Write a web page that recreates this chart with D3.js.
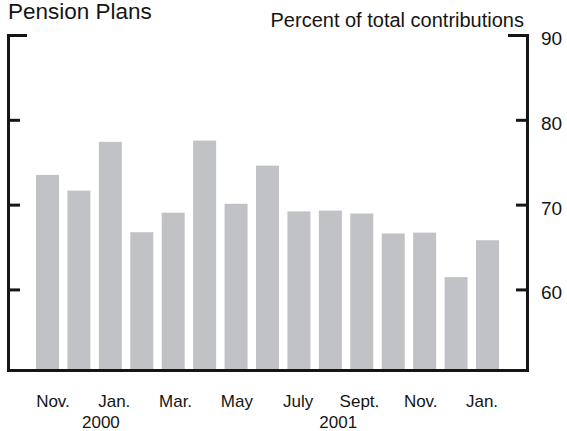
<!DOCTYPE html>
<html>
<head>
<meta charset="utf-8">
<script src="https://cdn.jsdelivr.net/npm/d3@7"></script>
<style>
  html, body { margin: 0; padding: 0; background: #fff; }
  svg { display: block; font-family: "Liberation Sans", Arial, Helvetica, sans-serif; }
</style>
</head>
<body>
<svg id="chart" width="567" height="431"></svg>
<script>
// ---- data ----
const months = ["1999-11","1999-12","2000-01","2000-02","2000-03","2000-04","2000-05","2000-06",
                "2000-07","2000-08","2000-09","2000-10","2000-11","2000-12","2001-01"];
const values = [73.5, 71.65, 77.4, 66.75, 69.05, 77.55, 70.1, 74.6,
                69.2, 69.3, 68.95, 66.6, 66.7, 61.45, 65.8];
const labeledMonths = ["1999-11","2000-01","2000-03","2000-05","2000-07","2000-09","2000-11","2001-01"];
const monthLabels = ["Nov.","Jan.","Mar.","May","July","Sept.","Nov.","Jan."];
const yearLabels = ["2000","2001"];
const yearPos = [1.7, 9.25];        // position in month-index units
const yTicks = [60, 70, 80, 90];
const title = "Pension Plans";
const unitLabel = "Percent of total contributions";

// ---- layout ----
const svg = d3.select("#chart");
const mLeft = 8, mRight = 527, mTop = 35, mBottom = 370;
const ink = "#151515", barColor = "#c1c2c6";

const x = d3.scaleBand().domain(months).range([mLeft, mRight]).paddingInner(0.268).paddingOuter(0.89);
const y = d3.scaleLinear().domain([50.5, 90]).range([mBottom, mTop]);

// bars
svg.append("g").selectAll("rect").data(months).join("rect")
  .attr("x", d => x(d))
  .attr("width", x.bandwidth())
  .attr("y", (d, i) => y(values[i]))
  .attr("height", (d, i) => y(50.5) - y(values[i]))
  .attr("fill", barColor);

// left axis (ticks inward, no labels)
const gl = svg.append("g").attr("transform", `translate(${mLeft},0)`)
  .call(d3.axisRight(y).tickValues(yTicks).tickSizeInner(12).tickSizeOuter(0).tickFormat(""));
// right axis (ticks inward, labels outside)
const gr = svg.append("g").attr("transform", `translate(${mRight},0)`)
  .call(d3.axisRight(y).tickValues(yTicks).tickSizeInner(-11).tickSizeOuter(0).tickPadding(14));
// bottom axis line
const gb = svg.append("g").attr("transform", `translate(0,${mBottom})`)
  .call(d3.axisBottom(x).tickSize(0).tickFormat("").tickSizeOuter(0));
gb.selectAll(".tick").remove();

[gl, gr, gb].forEach(g => {
  g.select(".domain").attr("stroke", ink).attr("stroke-width", 3).attr("stroke-linecap", "square");
  g.selectAll(".tick line").attr("stroke", ink).attr("stroke-width", 3);
});
gl.selectAll(".tick").filter(d => d === 90).select("line").attr("x2", 19);
gr.selectAll(".tick").filter(d => d === 90).select("line").attr("x2", -19);
gr.selectAll(".tick text")
  .attr("fill", ink).attr("font-size", 19).attr("dy", "0.5em").attr("font-family", null);

// month labels
const idx = d3.scaleLinear().domain([0, months.length - 1])
  .range([x(months[0]) + x.bandwidth() / 2, x(months[months.length - 1]) + x.bandwidth() / 2]);
const lab = d3.scalePoint().domain(labeledMonths)
  .range([x(labeledMonths[0]) + x.bandwidth() / 2 + 5, x(labeledMonths[labeledMonths.length - 1]) + x.bandwidth() / 2 - 6]);
const gx = svg.append("g").attr("transform", `translate(0,${mBottom})`)
  .call(d3.axisBottom(lab).tickSize(0).tickPadding(24.5).tickFormat((d, i) => monthLabels[i]));
gx.select(".domain").remove();
gx.selectAll("text").attr("font-size", 17).attr("fill", ink).attr("font-family", null);

// year labels
svg.append("g").selectAll("text").data(yearLabels).join("text")
  .attr("x", (d, i) => idx(yearPos[i]))
  .attr("y", 427.5)
  .attr("text-anchor", "middle")
  .attr("font-size", 17).attr("fill", ink)
  .text(d => d);

// titles
svg.append("text").attr("x", 8).attr("y", 18.5).attr("font-size", 22.5).attr("fill", ink).text(title);
svg.append("text").attr("x", 524).attr("y", 27).attr("text-anchor", "end")
  .attr("font-size", 20).attr("fill", ink).text(unitLabel);
</script>
</body>
</html>
